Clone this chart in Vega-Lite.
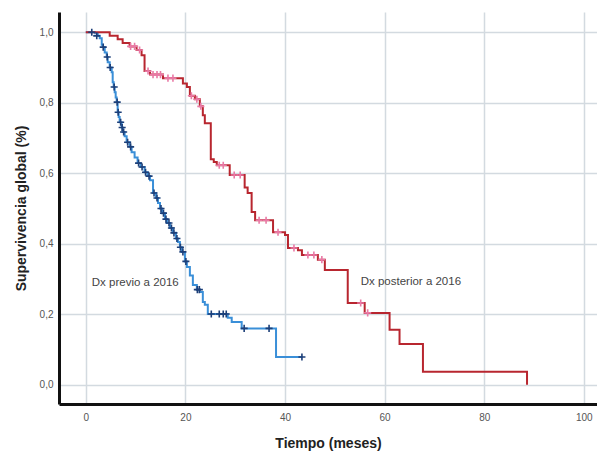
{
  "$schema": "https://vega.github.io/schema/vega-lite/v6.json",
  "autosize": "none",
  "width": 538,
  "height": 392,
  "padding": {"left": 59, "top": 12, "right": 0, "bottom": 49},
  "background": "white",
  "config": {"view": {"stroke": null}, "font": "Liberation Sans"},
  "datasets": {
    "curvas": [
      {"grupo": "previo", "tiempo": 0, "superv": 1.0},
      {"grupo": "previo", "tiempo": 1.8, "superv": 0.997},
      {"grupo": "previo", "tiempo": 2.4, "superv": 0.99},
      {"grupo": "previo", "tiempo": 2.8, "superv": 0.983},
      {"grupo": "previo", "tiempo": 3.2, "superv": 0.965},
      {"grupo": "previo", "tiempo": 3.4, "superv": 0.958},
      {"grupo": "previo", "tiempo": 3.8, "superv": 0.943},
      {"grupo": "previo", "tiempo": 4.2, "superv": 0.93},
      {"grupo": "previo", "tiempo": 4.4, "superv": 0.915},
      {"grupo": "previo", "tiempo": 4.8, "superv": 0.9},
      {"grupo": "previo", "tiempo": 5.2, "superv": 0.887},
      {"grupo": "previo", "tiempo": 5.4, "superv": 0.858},
      {"grupo": "previo", "tiempo": 5.6, "superv": 0.845},
      {"grupo": "previo", "tiempo": 5.8, "superv": 0.83},
      {"grupo": "previo", "tiempo": 6.0, "superv": 0.815},
      {"grupo": "previo", "tiempo": 6.2, "superv": 0.802},
      {"grupo": "previo", "tiempo": 6.4, "superv": 0.773},
      {"grupo": "previo", "tiempo": 6.6, "superv": 0.76},
      {"grupo": "previo", "tiempo": 6.8, "superv": 0.745},
      {"grupo": "previo", "tiempo": 7.2, "superv": 0.73},
      {"grupo": "previo", "tiempo": 7.4, "superv": 0.717},
      {"grupo": "previo", "tiempo": 7.8, "superv": 0.705},
      {"grupo": "previo", "tiempo": 8.2, "superv": 0.688},
      {"grupo": "previo", "tiempo": 8.8, "superv": 0.675},
      {"grupo": "previo", "tiempo": 9.2, "superv": 0.66},
      {"grupo": "previo", "tiempo": 9.8, "superv": 0.645},
      {"grupo": "previo", "tiempo": 10.4, "superv": 0.629},
      {"grupo": "previo", "tiempo": 11.0, "superv": 0.618},
      {"grupo": "previo", "tiempo": 11.8, "superv": 0.603},
      {"grupo": "previo", "tiempo": 12.4, "superv": 0.592},
      {"grupo": "previo", "tiempo": 12.9, "superv": 0.58},
      {"grupo": "previo", "tiempo": 13.5, "superv": 0.544},
      {"grupo": "previo", "tiempo": 14.1, "superv": 0.53},
      {"grupo": "previo", "tiempo": 14.5, "superv": 0.516},
      {"grupo": "previo", "tiempo": 14.9, "superv": 0.5},
      {"grupo": "previo", "tiempo": 15.3, "superv": 0.487},
      {"grupo": "previo", "tiempo": 15.9, "superv": 0.47},
      {"grupo": "previo", "tiempo": 16.3, "superv": 0.459},
      {"grupo": "previo", "tiempo": 16.9, "superv": 0.445},
      {"grupo": "previo", "tiempo": 17.5, "superv": 0.431},
      {"grupo": "previo", "tiempo": 18.1, "superv": 0.415},
      {"grupo": "previo", "tiempo": 18.5, "superv": 0.405},
      {"grupo": "previo", "tiempo": 18.9, "superv": 0.39},
      {"grupo": "previo", "tiempo": 19.3, "superv": 0.377},
      {"grupo": "previo", "tiempo": 19.9, "superv": 0.35},
      {"grupo": "previo", "tiempo": 20.3, "superv": 0.334},
      {"grupo": "previo", "tiempo": 20.9, "superv": 0.31},
      {"grupo": "previo", "tiempo": 21.5, "superv": 0.283},
      {"grupo": "previo", "tiempo": 22.3, "superv": 0.27},
      {"grupo": "previo", "tiempo": 22.9, "superv": 0.263},
      {"grupo": "previo", "tiempo": 23.5, "superv": 0.235},
      {"grupo": "previo", "tiempo": 23.9, "superv": 0.227},
      {"grupo": "previo", "tiempo": 24.5, "superv": 0.201},
      {"grupo": "previo", "tiempo": 28.5, "superv": 0.19},
      {"grupo": "previo", "tiempo": 29.3, "superv": 0.178},
      {"grupo": "previo", "tiempo": 31.3, "superv": 0.16},
      {"grupo": "previo", "tiempo": 38.2, "superv": 0.079},
      {"grupo": "previo", "tiempo": 43.4, "superv": 0.079},
      {"grupo": "posterior", "tiempo": 0, "superv": 1.0},
      {"grupo": "posterior", "tiempo": 4.8, "superv": 0.99},
      {"grupo": "posterior", "tiempo": 6.4, "superv": 0.98},
      {"grupo": "posterior", "tiempo": 7.4, "superv": 0.97},
      {"grupo": "posterior", "tiempo": 8.8, "superv": 0.96},
      {"grupo": "posterior", "tiempo": 10.2, "superv": 0.95},
      {"grupo": "posterior", "tiempo": 11.2, "superv": 0.935},
      {"grupo": "posterior", "tiempo": 11.8, "superv": 0.89},
      {"grupo": "posterior", "tiempo": 12.9, "superv": 0.88},
      {"grupo": "posterior", "tiempo": 15.5, "superv": 0.87},
      {"grupo": "posterior", "tiempo": 19.5, "superv": 0.855},
      {"grupo": "posterior", "tiempo": 20.3, "superv": 0.845},
      {"grupo": "posterior", "tiempo": 20.9, "superv": 0.82},
      {"grupo": "posterior", "tiempo": 21.9, "superv": 0.81},
      {"grupo": "posterior", "tiempo": 22.9, "superv": 0.79},
      {"grupo": "posterior", "tiempo": 23.5, "superv": 0.765},
      {"grupo": "posterior", "tiempo": 23.9, "superv": 0.742},
      {"grupo": "posterior", "tiempo": 25.1, "superv": 0.64},
      {"grupo": "posterior", "tiempo": 25.7, "superv": 0.632},
      {"grupo": "posterior", "tiempo": 26.3, "superv": 0.623},
      {"grupo": "posterior", "tiempo": 28.9, "superv": 0.595},
      {"grupo": "posterior", "tiempo": 31.9, "superv": 0.56},
      {"grupo": "posterior", "tiempo": 32.5, "superv": 0.544},
      {"grupo": "posterior", "tiempo": 33.3, "superv": 0.49},
      {"grupo": "posterior", "tiempo": 34.0, "superv": 0.467},
      {"grupo": "posterior", "tiempo": 37.6, "superv": 0.433},
      {"grupo": "posterior", "tiempo": 40.0, "superv": 0.425},
      {"grupo": "posterior", "tiempo": 40.6, "superv": 0.388},
      {"grupo": "posterior", "tiempo": 42.6, "superv": 0.382},
      {"grupo": "posterior", "tiempo": 43.4, "superv": 0.368},
      {"grupo": "posterior", "tiempo": 46.6, "superv": 0.355},
      {"grupo": "posterior", "tiempo": 48.0, "superv": 0.326},
      {"grupo": "posterior", "tiempo": 52.6, "superv": 0.232},
      {"grupo": "posterior", "tiempo": 56.0, "superv": 0.204},
      {"grupo": "posterior", "tiempo": 61.0, "superv": 0.156},
      {"grupo": "posterior", "tiempo": 63.0, "superv": 0.116},
      {"grupo": "posterior", "tiempo": 67.7, "superv": 0.037},
      {"grupo": "posterior", "tiempo": 88.6, "superv": 0.0}
    ],
    "censuras": [
      {"grupo": "previo", "tiempo": 1.2, "superv": 1.0},
      {"grupo": "previo", "tiempo": 2.2, "superv": 0.99},
      {"grupo": "previo", "tiempo": 3.5, "superv": 0.958},
      {"grupo": "previo", "tiempo": 4.3, "superv": 0.93},
      {"grupo": "previo", "tiempo": 4.9, "superv": 0.9},
      {"grupo": "previo", "tiempo": 5.7, "superv": 0.845},
      {"grupo": "previo", "tiempo": 6.3, "superv": 0.802},
      {"grupo": "previo", "tiempo": 6.5, "superv": 0.773},
      {"grupo": "previo", "tiempo": 7.0, "superv": 0.745},
      {"grupo": "previo", "tiempo": 7.3, "superv": 0.73},
      {"grupo": "previo", "tiempo": 7.6, "superv": 0.717},
      {"grupo": "previo", "tiempo": 8.4, "superv": 0.688},
      {"grupo": "previo", "tiempo": 9.0, "superv": 0.675},
      {"grupo": "previo", "tiempo": 10.6, "superv": 0.629},
      {"grupo": "previo", "tiempo": 11.3, "superv": 0.618},
      {"grupo": "previo", "tiempo": 12.0, "superv": 0.603},
      {"grupo": "previo", "tiempo": 12.7, "superv": 0.592},
      {"grupo": "previo", "tiempo": 13.7, "superv": 0.544},
      {"grupo": "previo", "tiempo": 14.3, "superv": 0.53},
      {"grupo": "previo", "tiempo": 15.1, "superv": 0.5},
      {"grupo": "previo", "tiempo": 15.6, "superv": 0.487},
      {"grupo": "previo", "tiempo": 16.1, "superv": 0.47},
      {"grupo": "previo", "tiempo": 16.7, "superv": 0.459},
      {"grupo": "previo", "tiempo": 17.2, "superv": 0.445},
      {"grupo": "previo", "tiempo": 17.7, "superv": 0.431},
      {"grupo": "previo", "tiempo": 18.3, "superv": 0.415},
      {"grupo": "previo", "tiempo": 19.0, "superv": 0.39},
      {"grupo": "previo", "tiempo": 19.5, "superv": 0.377},
      {"grupo": "previo", "tiempo": 20.1, "superv": 0.35},
      {"grupo": "previo", "tiempo": 22.4, "superv": 0.27},
      {"grupo": "previo", "tiempo": 22.8, "superv": 0.27},
      {"grupo": "previo", "tiempo": 25.2, "superv": 0.201},
      {"grupo": "previo", "tiempo": 26.8, "superv": 0.201},
      {"grupo": "previo", "tiempo": 27.6, "superv": 0.201},
      {"grupo": "previo", "tiempo": 28.2, "superv": 0.201},
      {"grupo": "previo", "tiempo": 31.8, "superv": 0.16},
      {"grupo": "previo", "tiempo": 36.8, "superv": 0.16},
      {"grupo": "previo", "tiempo": 43.4, "superv": 0.079},
      {"grupo": "posterior", "tiempo": 9.0, "superv": 0.96},
      {"grupo": "posterior", "tiempo": 9.8, "superv": 0.96},
      {"grupo": "posterior", "tiempo": 10.8, "superv": 0.95},
      {"grupo": "posterior", "tiempo": 12.5, "superv": 0.89},
      {"grupo": "posterior", "tiempo": 13.5, "superv": 0.88},
      {"grupo": "posterior", "tiempo": 14.3, "superv": 0.88},
      {"grupo": "posterior", "tiempo": 15.0, "superv": 0.88},
      {"grupo": "posterior", "tiempo": 16.5, "superv": 0.87},
      {"grupo": "posterior", "tiempo": 17.5, "superv": 0.87},
      {"grupo": "posterior", "tiempo": 21.2, "superv": 0.82},
      {"grupo": "posterior", "tiempo": 22.3, "superv": 0.81},
      {"grupo": "posterior", "tiempo": 23.1, "superv": 0.79},
      {"grupo": "posterior", "tiempo": 26.8, "superv": 0.623},
      {"grupo": "posterior", "tiempo": 27.6, "superv": 0.623},
      {"grupo": "posterior", "tiempo": 29.8, "superv": 0.595},
      {"grupo": "posterior", "tiempo": 31.0, "superv": 0.595},
      {"grupo": "posterior", "tiempo": 34.8, "superv": 0.467},
      {"grupo": "posterior", "tiempo": 36.2, "superv": 0.467},
      {"grupo": "posterior", "tiempo": 38.6, "superv": 0.433},
      {"grupo": "posterior", "tiempo": 41.8, "superv": 0.388},
      {"grupo": "posterior", "tiempo": 44.6, "superv": 0.368},
      {"grupo": "posterior", "tiempo": 45.8, "superv": 0.368},
      {"grupo": "posterior", "tiempo": 47.4, "superv": 0.355},
      {"grupo": "posterior", "tiempo": 55.2, "superv": 0.232},
      {"grupo": "posterior", "tiempo": 56.6, "superv": 0.204}
    ],
    "etiquetas": [
      {"texto": "Dx previo a 2016", "tiempo": 1.2, "superv": 0.289},
      {"texto": "Dx posterior a 2016", "tiempo": 55.2, "superv": 0.292}
    ]
  },
  "layer": [
    {
      "data": {"name": "curvas"},
      "transform": [{"filter": "datum.grupo === 'previo'"}],
      "mark": {"type": "line", "interpolate": "step-after", "color": "#3a8fd8", "strokeWidth": 2},
      "encoding": {
        "x": {
          "field": "tiempo", "type": "quantitative",
          "scale": {"domain": [-5.38, 102.65], "nice": false, "zero": false},
          "axis": {
            "title": "Tiempo (meses)", "values": [0, 20, 40, 60, 80, 100],
            "grid": true, "gridColor": "#d3dae0", "gridWidth": 1.5,
            "domainColor": "#111111", "domainWidth": 3, "ticks": false,
            "labelFont": "Liberation Sans", "labelFontSize": 10, "labelColor": "#555555", "labelPadding": 8,
            "titleFont": "Liberation Sans", "titleFontSize": 14, "titleFontWeight": "bold", "titleColor": "#222222", "titlePadding": 14
          }
        },
        "y": {
          "field": "superv", "type": "quantitative",
          "scale": {"domain": [-0.0545, 1.0576], "nice": false, "zero": false},
          "axis": {
            "title": "Supervivencia global (%)", "values": [0, 0.2, 0.4, 0.6, 0.8, 1.0],
            "labelExpr": "replace(format(datum.value, '.1f'), '.', ',')",
            "grid": true, "gridColor": "#d3dae0", "gridWidth": 1.5,
            "domainColor": "#111111", "domainWidth": 3, "ticks": false,
            "labelFont": "Liberation Sans", "labelFontSize": 10, "labelColor": "#555555", "labelPadding": 6,
            "titleFont": "Liberation Sans", "titleFontSize": 14, "titleFontWeight": "bold", "titleColor": "#222222", "titlePadding": 11
          }
        }
      }
    },
    {
      "data": {"name": "curvas"},
      "transform": [{"filter": "datum.grupo === 'posterior'"}],
      "mark": {"type": "line", "interpolate": "step-after", "color": "#b8262f", "strokeWidth": 2},
      "encoding": {
        "x": {"field": "tiempo", "type": "quantitative"},
        "y": {"field": "superv", "type": "quantitative"}
      }
    },
    {
      "data": {"name": "censuras"},
      "transform": [{"filter": "datum.grupo === 'previo'"}],
      "mark": {"type": "point", "shape": "M-1,0L1,0M0,-1L0,1", "filled": false, "stroke": "#1d3f78", "strokeWidth": 1.6, "size": 50, "opacity": 1},
      "encoding": {
        "x": {"field": "tiempo", "type": "quantitative"},
        "y": {"field": "superv", "type": "quantitative"}
      }
    },
    {
      "data": {"name": "censuras"},
      "transform": [{"filter": "datum.grupo === 'posterior'"}],
      "mark": {"type": "point", "shape": "M-1,0L1,0M0,-1L0,1", "filled": false, "stroke": "#e97aa6", "strokeWidth": 1.6, "size": 50, "opacity": 1},
      "encoding": {
        "x": {"field": "tiempo", "type": "quantitative"},
        "y": {"field": "superv", "type": "quantitative"}
      }
    },
    {
      "data": {"name": "etiquetas"},
      "mark": {"type": "text", "align": "left", "baseline": "middle", "font": "Liberation Sans", "fontSize": 11.5, "color": "#444444"},
      "encoding": {
        "x": {"field": "tiempo", "type": "quantitative"},
        "y": {"field": "superv", "type": "quantitative"},
        "text": {"field": "texto"}
      }
    }
  ]
}
